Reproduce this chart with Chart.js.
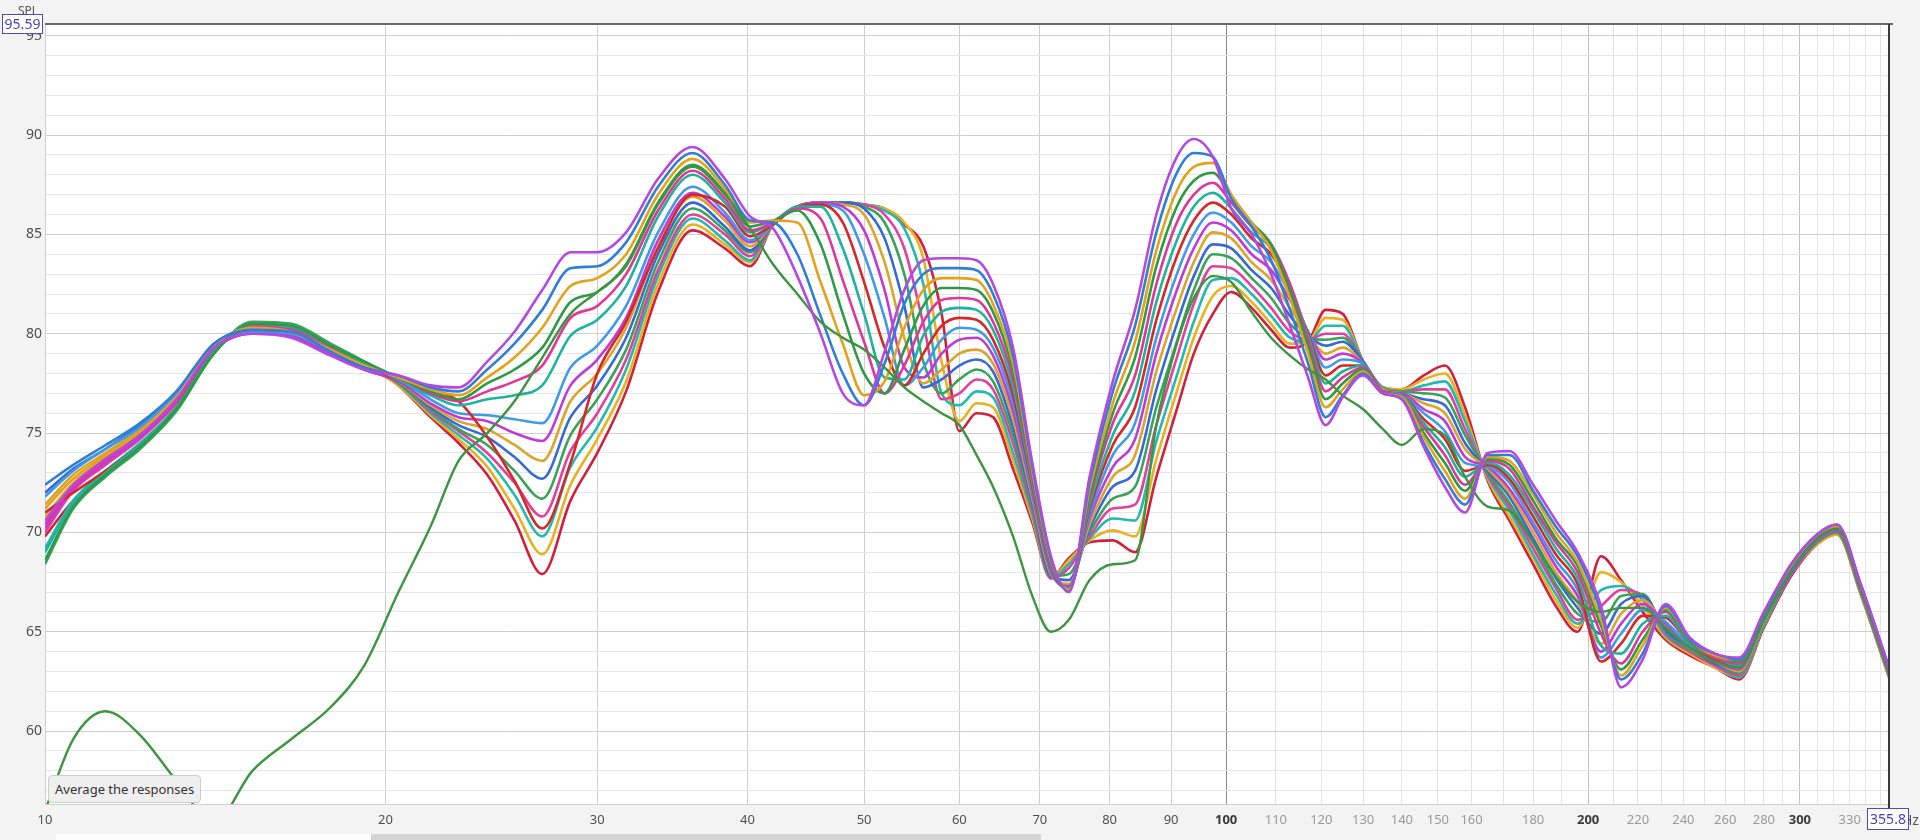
<!DOCTYPE html>
<html>
<head>
<meta charset="utf-8">
<script src="https://cdn.jsdelivr.net/npm/chart.js@4.4.1/dist/chart.umd.min.js"></script>
<style>
  html, body { margin: 0; padding: 0; background: #f3f3f3; }
  #wrap { position: relative; width: 1920px; height: 840px; overflow: hidden; }
  canvas { display: block; }
  #tip {
    position: absolute; left: 48px; top: 775px; height: 26px; padding: 0 6px;
    background: #efefef; border: 1px solid #cdcdcd; border-radius: 4px;
    font: 13px "Noto Sans", sans-serif; line-height: 26px; color: #333;
  }
</style>
</head>
<body>
<div id="wrap">
  <canvas id="spl" width="1920" height="840"></canvas>
  <div id="tip">Average the responses</div>
</div>
<script>
// frequency points (Hz) shared by every trace
const freqs = [10.42, 11, 11.7, 12.5, 13.4, 14.4, 15.5, 16.7, 18, 19.2, 20.5,
  21.8, 23, 24.3, 25.6, 27, 28.5, 30, 31.7, 33.7, 36, 38.3, 40.2,
  42, 44, 46, 48, 50, 52, 54, 56, 58, 60, 62, 64, 66.5, 69, 71.5, 74, 77,
  80.5, 84, 87.5, 91, 94, 97.5, 101,
  105, 109, 113, 117, 121, 125, 130, 135,
  140, 146, 152, 158, 165, 172, 180, 188,
  196, 205, 213, 222, 232, 243,
  255, 267, 280, 295, 310, 322, 337, 355.8];

// SPL (dB) of each measured response
const resp_01 = [70.6, 72.4, 73.7, 74.9, 76.7, 79.3, 80.0, 79.8, 78.9, 78.2, 77.9,
  77.4, 77.3, 78.6, 80.1, 82.2, 84.1, 84.1, 85.1, 87.8, 89.4, 87.8, 85.9,
  85.3, 82.9, 80.0, 77.0, 76.4, 79.1, 82.2, 83.7, 83.8, 83.8, 83.7, 82.5, 79.3, 73.5, 68.8, 67.0, 72.8,
  77.6, 81.2, 86.0, 88.9, 89.8, 88.9, 86.3,
  85.0, 83.0, 80.4, 77.8, 75.4, 76.8, 77.9, 77.0,
  76.7, 74.3, 72.3, 71.0, 74.0, 74.1, 72.4, 70.6,
  69.0, 66.3, 62.2, 63.6, 66.4, 64.7,
  63.9, 63.7, 66.0, 68.4, 69.9, 70.4, 67.4, 63.2];
const resp_02 = [72.4, 73.4, 74.4, 75.5, 77.1, 79.5, 80.2, 80.1, 79.1, 78.3, 77.9,
  77.3, 77.1, 78.2, 79.5, 81.2, 83.3, 83.4, 84.6, 87.4, 89.1, 87.5, 85.7,
  85.6, 84.0, 80.9, 78.0, 76.4, 78.5, 81.5, 83.0, 83.3, 83.3, 83.2, 82.0, 78.9, 73.3, 68.7, 67.0, 72.5,
  77.1, 80.4, 85.1, 88.1, 89.1, 88.9, 86.8,
  85.4, 83.7, 81.2, 78.5, 75.8, 76.9, 78.0, 77.0,
  76.7, 74.5, 72.7, 71.4, 73.9, 73.9, 72.1, 70.3,
  68.8, 66.0, 62.6, 63.9, 66.3, 64.6,
  63.9, 63.6, 65.9, 68.4, 69.9, 70.4, 67.4, 63.2];
const resp_03 = [71.2, 72.7, 73.9, 75.1, 76.8, 79.4, 80.3, 80.1, 79.2, 78.4, 77.8,
  77.2, 76.9, 77.8, 78.8, 80.3, 82.4, 82.8, 84.0, 87.0, 88.8, 87.3, 85.6,
  85.7, 85.6, 82.6, 79.5, 76.9, 77.6, 80.3, 82.2, 82.8, 82.8, 82.7, 81.5, 78.5, 73.1, 68.6, 67.1, 72.2,
  76.5, 79.6, 84.2, 87.2, 88.4, 88.6, 87.0,
  85.6, 84.2, 81.8, 79.0, 76.3, 77.2, 78.1, 77.0,
  76.8, 74.8, 73.1, 71.7, 73.8, 73.6, 71.9, 70.0,
  68.5, 65.6, 62.8, 64.3, 66.2, 64.6,
  63.8, 63.6, 65.9, 68.3, 69.8, 70.3, 67.3, 63.1];
const resp_04 = [68.6, 71.3, 72.9, 74.3, 76.2, 79.0, 80.5, 80.4, 79.4, 78.6, 77.8,
  77.1, 76.7, 77.5, 78.2, 79.3, 81.6, 82.1, 83.5, 86.6, 88.5, 87.1, 85.4,
  85.7, 86.2, 84.5, 81.0, 78.0, 77.0, 79.2, 81.4, 82.3, 82.3, 82.2, 81.1, 78.1, 72.9, 68.5, 67.1, 71.9,
  76.0, 78.8, 83.4, 86.4, 87.7, 88.1, 86.9,
  85.6, 84.5, 82.2, 79.4, 76.7, 77.5, 78.2, 77.0,
  76.8, 75.0, 73.5, 72.1, 73.7, 73.4, 71.6, 69.7,
  68.3, 65.3, 63.1, 64.6, 66.1, 64.5,
  63.8, 63.5, 65.8, 68.3, 69.8, 70.3, 67.3, 63.1];
const resp_05 = [70.4, 72.3, 73.6, 74.9, 76.6, 79.3, 80.3, 80.2, 79.2, 78.4, 77.8,
  77.0, 76.6, 77.1, 77.6, 78.4, 80.8, 81.4, 83.0, 86.2, 88.2, 86.8, 85.2,
  85.6, 86.3, 85.8, 82.7, 79.6, 77.0, 78.4, 80.6, 81.7, 81.8, 81.7, 80.6, 77.7, 72.7, 68.4, 67.1, 71.7,
  75.5, 77.9, 82.5, 85.6, 87.0, 87.6, 86.6,
  85.4, 84.5, 82.5, 79.7, 77.1, 77.8, 78.3, 77.1,
  76.8, 75.3, 73.9, 72.4, 73.6, 73.2, 71.3, 69.5,
  68.0, 64.9, 63.4, 65.0, 66.0, 64.5,
  63.7, 63.4, 65.8, 68.3, 69.8, 70.3, 67.3, 63.1];
const resp_06 = [69.0, 71.5, 73.0, 74.4, 76.3, 79.1, 80.5, 80.3, 79.4, 78.5, 77.7,
  76.9, 76.4, 76.7, 76.9, 77.4, 79.9, 80.7, 82.4, 85.9, 88.0, 86.6, 85.1,
  85.6, 86.4, 86.4, 84.3, 81.0, 77.8, 77.7, 79.9, 81.1, 81.3, 81.2, 80.2, 77.3, 72.5, 68.3, 67.2, 71.4,
  74.9, 77.1, 81.6, 84.7, 86.4, 87.1, 86.3,
  85.1, 84.3, 82.5, 79.9, 77.5, 78.1, 78.4, 77.1,
  76.9, 75.5, 74.3, 72.8, 73.5, 72.9, 71.1, 69.2,
  67.7, 64.3, 63.9, 65.4, 65.8, 64.4,
  63.7, 63.3, 65.7, 68.2, 69.7, 70.2, 67.2, 63.0];
const resp_07 = [71.0, 72.0, 73.1, 74.4, 76.3, 79.3, 80.2, 80.1, 79.2, 78.4, 77.7,
  77.2, 76.6, 74.8, 72.6, 70.2, 73.5, 78.0, 80.6, 84.3, 87.0, 86.4, 84.9,
  85.5, 86.4, 86.5, 85.6, 82.6, 79.3, 77.4, 79.0, 80.4, 80.8, 80.7, 79.7, 76.9, 72.3, 68.2, 67.2, 71.2,
  74.4, 76.3, 80.7, 83.9, 85.7, 86.6, 86.0,
  84.8, 84.0, 82.3, 80.0, 77.9, 78.4, 78.4, 77.1,
  76.9, 75.7, 74.7, 73.1, 73.4, 72.7, 70.8, 68.9,
  67.4, 63.5, 64.4, 65.8, 65.7, 64.4,
  63.6, 63.3, 65.7, 68.2, 69.7, 70.2, 67.2, 63.0];
const resp_08 = [71.8, 73.1, 74.2, 75.3, 77.0, 79.4, 80.1, 80.0, 79.1, 78.3, 77.7,
  76.7, 76.0, 75.9, 75.7, 75.5, 78.3, 79.4, 81.4, 85.1, 87.4, 86.1, 84.7,
  85.5, 86.4, 86.5, 86.2, 84.0, 80.8, 77.4, 78.3, 79.7, 80.3, 80.2, 79.3, 76.5, 72.1, 68.1, 67.2, 70.9,
  73.9, 75.5, 79.8, 83.0, 85.0, 86.1, 85.6,
  84.4, 83.6, 82.0, 80.1, 78.3, 78.7, 78.5, 77.1,
  76.9, 76.0, 75.1, 73.5, 73.3, 72.5, 70.5, 68.6,
  67.1, 63.7, 64.9, 66.1, 65.5, 64.3,
  63.6, 63.2, 65.6, 68.1, 69.7, 70.2, 67.2, 63.0];
const resp_09 = [70.2, 72.2, 73.5, 74.8, 76.6, 79.2, 80.0, 79.9, 79.0, 78.2, 77.6,
  76.5, 75.8, 75.6, 75.0, 74.6, 77.4, 78.7, 80.8, 84.7, 87.1, 85.9, 84.6,
  85.5, 86.4, 86.6, 86.4, 85.2, 82.2, 78.3, 77.8, 79.0, 79.7, 79.8, 78.9, 76.1, 71.9, 68.0, 67.3, 70.7,
  73.3, 74.7, 79.0, 82.2, 84.3, 85.6, 85.2,
  84.0, 83.2, 81.7, 80.1, 78.7, 79.0, 78.5, 77.1,
  77.0, 76.2, 75.6, 73.8, 73.3, 72.2, 70.3, 68.3,
  66.8, 64.0, 65.4, 66.4, 65.4, 64.3,
  63.5, 63.1, 65.6, 68.1, 69.6, 70.1, 67.1, 62.9];
const resp_10 = [71.4, 72.9, 74.0, 75.2, 76.9, 79.4, 80.2, 80.0, 79.1, 78.3, 77.6,
  76.4, 75.6, 75.2, 74.4, 73.6, 76.6, 78.0, 80.3, 84.4, 86.9, 85.7, 84.4,
  85.5, 86.4, 86.6, 86.5, 86.0, 83.6, 79.8, 77.5, 78.2, 79.0, 79.2, 78.5, 75.7, 71.7, 67.9, 67.4, 70.4,
  72.8, 73.9, 78.1, 81.3, 83.6, 85.1, 84.8,
  83.6, 82.7, 81.3, 80.0, 79.0, 79.3, 78.5, 77.2,
  77.0, 76.5, 76.0, 74.2, 73.2, 72.0, 70.0, 68.0,
  66.5, 64.4, 65.9, 66.6, 65.3, 64.2,
  63.5, 63.0, 65.5, 68.1, 69.6, 70.1, 67.1, 62.9];
const resp_11 = [72.0, 73.2, 74.2, 75.4, 77.0, 79.5, 80.1, 79.9, 79.0, 78.2, 77.6,
  76.3, 75.4, 74.8, 73.8, 72.7, 75.8, 77.4, 79.8, 84.0, 86.6, 85.4, 84.2,
  85.5, 86.4, 86.6, 86.6, 86.3, 84.8, 81.4, 77.3, 77.7, 78.4, 78.7, 78.1, 75.3, 71.5, 67.8, 67.6, 70.2,
  72.3, 73.1, 77.2, 80.5, 82.9, 84.5, 84.3,
  83.2, 82.3, 80.9, 79.9, 79.4, 79.6, 78.6, 77.2,
  77.0, 76.7, 76.4, 74.5, 73.1, 71.8, 69.7, 67.7,
  66.2, 64.9, 66.4, 66.8, 65.1, 64.2,
  63.4, 63.0, 65.5, 68.0, 69.6, 70.1, 67.1, 62.9];
const resp_12 = [68.4, 71.2, 72.8, 74.2, 76.1, 79.0, 80.6, 80.5, 79.5, 78.6, 77.5,
  76.2, 75.2, 74.4, 73.1, 71.7, 74.9, 76.7, 79.2, 83.6, 86.3, 85.2, 84.1,
  85.5, 86.4, 86.6, 86.6, 86.4, 85.6, 83.0, 78.6, 77.0, 77.7, 78.2, 77.6, 74.9, 71.3, 67.8, 67.9, 70.0,
  71.7, 72.3, 76.3, 79.6, 82.2, 84.0, 83.8,
  82.8, 81.8, 80.5, 79.8, 79.7, 79.8, 78.6, 77.2,
  77.1, 77.0, 76.8, 74.9, 73.0, 71.5, 69.5, 67.4,
  65.9, 65.5, 66.8, 66.9, 65.0, 64.1,
  63.4, 62.9, 65.4, 68.0, 69.5, 70.0, 67.0, 62.8];
const resp_13 = [70.0, 72.1, 73.4, 74.7, 76.5, 79.2, 80.4, 80.2, 79.3, 78.4, 77.5,
  76.1, 75.1, 74.0, 72.5, 70.8, 74.1, 76.0, 78.7, 83.2, 86.0, 85.0, 83.9,
  85.5, 86.4, 86.6, 86.6, 86.5, 86.0, 84.3, 80.5, 76.7, 77.0, 77.7, 77.2, 74.5, 71.1, 67.7, 68.2, 69.8,
  71.2, 71.4, 75.4, 78.8, 81.5, 83.4, 83.3,
  82.4, 81.3, 80.1, 79.7, 80.0, 80.0, 78.6, 77.2,
  77.1, 77.2, 77.2, 75.2, 72.9, 71.3, 69.2, 67.2,
  65.6, 66.3, 67.1, 66.8, 64.9, 64.0,
  63.3, 62.8, 65.4, 67.9, 69.5, 70.0, 67.0, 62.8];
const resp_14 = [69.2, 71.6, 73.1, 74.5, 76.3, 79.1, 80.4, 80.3, 79.4, 78.5, 77.5,
  76.0, 74.9, 73.7, 71.9, 69.8, 73.3, 75.3, 78.2, 82.9, 85.8, 84.7, 83.7,
  85.5, 86.4, 86.6, 86.6, 86.5, 86.2, 85.3, 82.5, 77.0, 76.4, 77.1, 76.8, 74.0, 70.9, 67.7, 68.4, 69.7,
  70.7, 70.6, 74.6, 77.9, 80.6, 82.7, 82.8,
  82.0, 80.9, 79.8, 79.6, 80.4, 80.4, 78.6, 77.3,
  77.1, 77.4, 77.6, 75.6, 72.8, 71.1, 68.9, 66.9,
  65.4, 67.1, 67.3, 66.6, 64.8, 64.0,
  63.3, 62.7, 65.3, 67.9, 69.5, 70.0, 67.0, 62.8];
const resp_15 = [70.8, 72.5, 73.8, 75.0, 76.7, 79.3, 80.3, 80.2, 79.3, 78.4, 77.4,
  75.9, 74.7, 73.3, 71.2, 68.9, 72.4, 74.7, 77.6, 82.5, 85.5, 84.5, 83.6,
  85.5, 86.4, 86.6, 86.6, 86.5, 86.3, 85.6, 83.8, 78.6, 75.6, 76.5, 76.3, 73.6, 70.7, 67.7, 68.6, 69.6,
  70.1, 69.8, 73.7, 77.1, 79.8, 81.9, 82.4,
  81.6, 80.5, 79.5, 79.6, 80.8, 80.7, 78.6, 77.3,
  77.2, 77.7, 78.0, 75.9, 72.7, 70.8, 68.7, 66.6,
  65.2, 68.0, 67.5, 66.3, 64.7, 63.9,
  63.2, 62.7, 65.3, 67.9, 69.4, 69.9, 66.9, 62.7];
const resp_16 = [69.8, 71.6, 73.0, 74.3, 76.2, 79.2, 80.4, 80.3, 79.3, 78.5, 77.4,
  75.8, 74.5, 72.9, 70.6, 67.9, 71.6, 74.0, 77.1, 82.1, 85.2, 84.3, 83.4,
  85.5, 86.4, 86.6, 86.6, 86.5, 86.3, 85.5, 84.4, 81.0, 75.1, 76.0, 75.8, 73.2, 70.5, 67.7, 68.7, 69.5,
  69.6, 69.0, 72.8, 76.2, 79.0, 81.0, 82.1,
  81.3, 80.2, 79.3, 79.6, 81.2, 81.0, 78.6, 77.3,
  77.2, 77.9, 78.4, 76.3, 72.6, 70.6, 68.4, 66.3,
  65.0, 68.8, 67.6, 66.0, 64.6, 63.8,
  63.2, 62.6, 65.2, 67.8, 69.4, 69.9, 66.9, 62.7];
// the one position that drops far below the others under 20 Hz
const resp_odd = [56.0, 59.6, 61.0, 59.8, 57.5, 55.4, 58.0, 59.6, 61.2, 63.3, 67.0,
  70.3, 73.6, 75.0, 76.6, 78.8, 81.0, 82.1, 83.4, 86.5, 88.4, 87.0, 85.3,
  83.5, 82.0, 80.6, 79.8, 79.2, 78.3, 77.3, 76.6, 76.0, 75.4, 73.9, 72.3, 69.8, 66.8, 65.0, 65.6, 67.6,
  68.4, 68.6, 75.4, 79.5, 81.8, 82.9, 82.6,
  81.1, 79.8, 78.9, 78.2, 77.7, 76.9, 76.2, 75.2,
  74.4, 75.2, 74.9, 72.8, 71.3, 71.1, 69.5, 67.8,
  66.5, 66.0, 66.2, 66.2, 65.2, 64.2,
  63.5, 63.2, 65.6, 68.1, 69.7, 70.2, 67.2, 63.0];

const responses = [resp_01, resp_02, resp_03, resp_04, resp_05, resp_06, resp_07, resp_08,
  resp_09, resp_10, resp_11, resp_12, resp_13, resp_14, resp_15, resp_16];
const trace_colors = ['#b449e0', '#2f7ed8', '#e4a11b', '#2e9a47', '#e0359a', '#1db39c', '#d62828', '#3f9ae8',
  '#c03ad8', '#dba42a', '#3569d6', '#3aa35a', '#e2409f', '#25b8b0', '#eab020', '#d21f3c'];
const odd_color = '#3d9441';

// axis ticks
const x_min = 10.42;
const x_max = 355.8;
const y_min = 56.33;
const y_max = 95.59;
const x_grid = [10.42, 20, 30, 40, 50, 60, 70, 80, 90, 100, 110, 120, 130, 140, 150, 160, 170, 180, 190,
  200, 210, 220, 230, 240, 250, 260, 270, 280, 290, 300, 310, 320, 330, 340, 350];
const x_labels = [20, 30, 40, 50, 60, 70, 80, 90, 100, 110, 120, 130, 140, 150, 160, 180,
  200, 220, 240, 260, 280, 300, 330];
const x_major = [100, 200, 300];
const y_labels = [60, 65, 70, 75, 80, 85, 90, 95];

const font_family = '"Noto Sans", "Open Sans", sans-serif';

function to_points (arr) {
  return arr.map((v, i) => ({ x: freqs[i], y: v }));
}

function value_box (ctx, text, x, y, w, h) {
  ctx.fillStyle = '#ffffff';
  ctx.fillRect(x, y, w, h);
  ctx.strokeStyle = '#4a4ad6';
  ctx.lineWidth = 1;
  ctx.strokeRect(x + 0.5, y + 0.5, w - 1, h - 1);
  ctx.fillStyle = '#4343c6';
  ctx.font = '14px ' + font_family;
  ctx.textAlign = 'center';
  ctx.textBaseline = 'middle';
  ctx.fillText(text, x + w / 2, y + h / 2 + 1);
}

const frame_plugin = {
  id: 'frame',
  beforeDraw (chart) {
    const ctx = chart.ctx;
    const a = chart.chartArea;
    ctx.save();
    ctx.fillStyle = '#f3f3f3';
    ctx.fillRect(0, 0, chart.width, chart.height);
    ctx.fillStyle = '#ffffff';
    ctx.fillRect(a.left, a.top, a.right - a.left, a.bottom - a.top);
    ctx.restore();
  },
  afterDraw (chart) {
    const ctx = chart.ctx;
    const a = chart.chartArea;
    ctx.save();
    // top edge and cursor line on the right
    ctx.strokeStyle = '#6a6a6a';
    ctx.lineWidth = 2;
    ctx.beginPath();
    ctx.moveTo(a.left, a.top);
    ctx.lineTo(a.right + 4, a.top);
    ctx.stroke();
    ctx.strokeStyle = '#3a3a3a';
    ctx.beginPath();
    ctx.moveTo(a.right, a.top);
    ctx.lineTo(a.right, a.bottom + 4);
    ctx.stroke();

    // scroll bar under the axis
    ctx.fillStyle = '#ffffff';
    ctx.fillRect(56, 834, 315, 6);
    ctx.fillStyle = '#d4d4d4';
    ctx.fillRect(371, 834, 670, 6);

    ctx.fillStyle = '#555555';
    ctx.font = '12px ' + font_family;
    ctx.textAlign = 'left';
    ctx.textBaseline = 'alphabetic';
    ctx.fillText('SPL', 18, 15);
    ctx.font = '14px ' + font_family;
    ctx.fillText('Hz', 1902, 825);

    value_box(ctx, '95.59', 2, 14, 41, 20);
    value_box(ctx, '355.8', 1867, 808, 42, 22);
    ctx.restore();
  }
};

const datasets = [];
responses.forEach((arr, i) => {
  datasets.push({
    label: 'resp ' + (i + 1),
    data: to_points(arr),
    borderColor: trace_colors[i],
    backgroundColor: trace_colors[i],
    borderWidth: 2.6
  });
});
datasets.splice(1, 0, {
  label: 'resp odd',
  data: to_points(resp_odd),
  borderColor: odd_color,
  backgroundColor: odd_color,
  borderWidth: 2.4
});

const ctx = document.getElementById('spl').getContext('2d');
const spl_chart = new Chart(ctx, {
  type: 'line',
  data: { datasets: datasets },
  plugins: [frame_plugin],
  options: {
    responsive: false,
    animation: false,
    devicePixelRatio: 1,
    layout: { padding: { top: 24, right: 31, left: 0, bottom: 0 } },
    elements: {
      point: { radius: 0, hoverRadius: 0 },
      line: { tension: 0.4, cubicInterpolationMode: 'monotone', fill: false }
    },
    plugins: {
      legend: { display: false },
      tooltip: { enabled: false }
    },
    events: [],
    scales: {
      x: {
        type: 'logarithmic',
        min: x_min,
        max: x_max,
        afterBuildTicks: scale => { scale.ticks = x_grid.map(v => ({ value: v })); },
        afterFit: scale => { scale.height = 36; },
        border: { display: true, color: '#d0d0d0' },
        grid: {
          drawTicks: false,
          lineWidth: 1,
          color: c => {
            const v = c.tick ? c.tick.value : 0;
            if (v === 100) return '#8a8a8a';
            if (v === 200 || v === 300) return '#c2c2c2';
            if (v < 100 && v >= 20) return '#d0d0d0';
            if (v < 20) return 'rgba(0,0,0,0)';
            return '#e3e3e3';
          }
        },
        ticks: {
          autoSkip: false,
          maxRotation: 0,
          padding: 8,
          callback: v => {
            if (v === x_min) return '10';
            return x_labels.includes(v) ? String(v) : '';
          },
          color: c => {
            const v = c.tick ? c.tick.value : 0;
            if (x_major.includes(v)) return '#3a3a3a';
            if (v > 100) return '#9a9a9a';
            return '#505050';
          },
          font: c => {
            const v = c.tick ? c.tick.value : 0;
            return { family: font_family, size: 13, weight: x_major.includes(v) ? 'bold' : 'normal' };
          }
        }
      },
      y: {
        type: 'linear',
        min: y_min,
        max: y_max,
        afterBuildTicks: scale => {
          const t = [];
          for (let v = 57; v <= 95; v++) t.push({ value: v });
          scale.ticks = t;
        },
        afterFit: scale => { scale.width = 45; },
        border: { display: true, color: '#d0d0d0' },
        grid: {
          drawTicks: false,
          color: c => (c.tick && c.tick.value % 5 === 0) ? '#cfcfcf' : '#e6e6e6'
        },
        ticks: {
          autoSkip: false,
          padding: 3,
          color: '#4d4d4d',
          font: { family: font_family, size: 14 },
          callback: v => y_labels.includes(v) ? String(v) : ''
        }
      }
    }
  }
});
</script>
</body>
</html>
